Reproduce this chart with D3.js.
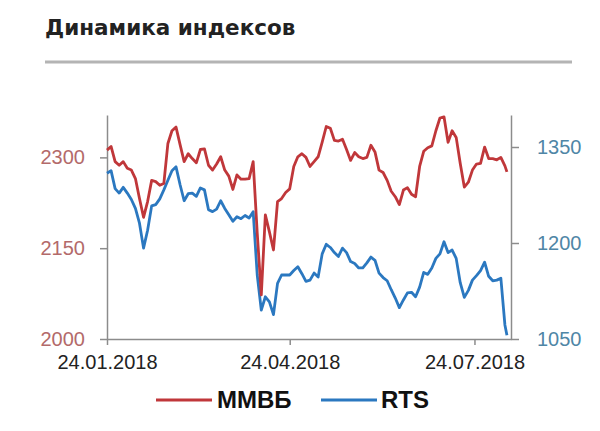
<!DOCTYPE html>
<html>
<head>
<meta charset="utf-8">
<script src="https://cdn.jsdelivr.net/npm/d3@7"></script>
<style>
  html, body { margin: 0; padding: 0; background: #ffffff; }
  svg { display: block; }
</style>
</head>
<body>
<svg id="chart" width="600" height="431"></svg>
<script>
// ---- data ----
const title = "Динамика индексов";
const seriesNames = ["ММВБ", "RTS"];
const dates = [
  "01-24","01-26","01-28","01-30","02-01","02-03","02-05","02-07","02-09","02-11",
  "02-13","02-15","02-17","02-19","02-21","02-23","02-25","02-27","03-01","03-03",
  "03-05","03-07","03-09","03-11","03-13","03-15","03-17","03-19","03-21","03-23",
  "03-25","03-27","03-29","03-31","04-02","04-04","04-06","04-08","04-10","04-12",
  "04-14","04-16","04-18","04-20","04-22","04-24","04-26","04-28","04-30","05-02",
  "05-04","05-06","05-08","05-10","05-12","05-14","05-16","05-18","05-20","05-22",
  "05-24","05-26","05-28","05-30","06-01","06-03","06-05","06-07","06-09","06-11",
  "06-13","06-15","06-17","06-19","06-21","06-23","06-25","06-27","06-29","07-01",
  "07-03","07-05","07-07","07-09","07-11","07-13","07-15","07-17","07-19","07-21",
  "07-23","07-25","07-27","07-29","07-31","08-02","08-04","08-06","08-08","08-09"
];
const mmvb = [
  2312,2318,2293,2287,2293,2282,2279,2265,2232,2201,
  2227,2262,2260,2254,2257,2323,2344,2350,2321,2293,
  2306,2298,2291,2313,2314,2287,2279,2289,2301,2279,
  2269,2247,2271,2264,2264,2265,2293,2175,2073,2205,
  2177,2147,2227,2232,2242,2248,2285,2301,2306,2300,
  2285,2293,2301,2325,2351,2348,2328,2327,2330,2313,
  2295,2308,2301,2298,2300,2320,2309,2279,2275,2262,
  2244,2235,2222,2246,2250,2239,2235,2285,2310,2316,
  2319,2344,2365,2367,2325,2344,2333,2290,2251,2259,
  2279,2289,2290,2317,2298,2298,2296,2300,2286,2276
];
const rts = [
  1309,1313,1285,1278,1287,1278,1268,1254,1231,1192,
  1220,1258,1260,1269,1283,1298,1313,1319,1291,1266,
  1277,1278,1273,1286,1283,1252,1249,1253,1266,1254,
  1244,1234,1241,1238,1243,1239,1249,1150,1095,1116,
  1108,1088,1137,1150,1150,1150,1157,1163,1152,1140,
  1142,1153,1147,1183,1198,1193,1185,1179,1192,1185,
  1171,1168,1161,1161,1169,1178,1173,1153,1146,1141,
  1127,1114,1099,1111,1122,1123,1116,1131,1154,1151,
  1161,1176,1183,1202,1185,1189,1176,1138,1115,1126,
  1142,1149,1157,1170,1148,1141,1142,1145,1072,1056
];
const leftTicks = [2000, 2150, 2300];
const rightTicks = [1050, 1200, 1350];
const xTickLabels = ["24.01.2018", "24.04.2018", "24.07.2018"];

// ---- layout ----
const svg = d3.select("#chart");
const parseDay = d3.timeParse("%Y-%m-%d");
const parseLabel = d3.timeParse("%d.%m.%Y");
const xDates = dates.map(d => parseDay("2018-" + d));

const plot = { left: 107, right: 511, top: 115, bottom: 339 };
const x = d3.scaleTime()
  .domain([parseDay("2018-01-24"), parseDay("2018-08-11")])
  .range([plot.left, plot.right]);
const yL = d3.scaleLinear().domain([2000, 2370]).range([plot.bottom, plot.top]);
const yR = d3.scaleLinear().domain([1050, 1400]).range([plot.bottom, plot.top]);

const redColor = "#c0373a";
const blueColor = "#2b78c0";
const axisColor = "#8c8c8c";

// title
svg.append("text")
  .attr("x", 45).attr("y", 35)
  .attr("font-family", "DejaVu Sans, sans-serif")
  .attr("font-size", 21.5).attr("font-weight", "bold")
  .attr("fill", "#222")
  .text(title);
svg.append("line")
  .attr("x1", 45).attr("x2", 572).attr("y1", 62).attr("y2", 62)
  .attr("stroke", "#b4b4b4").attr("stroke-width", 3);

// axes
function styleAxis(g, color) {
  g.select(".domain").attr("stroke", axisColor).attr("stroke-width", 1.5);
  g.selectAll(".tick line").attr("stroke", axisColor).attr("stroke-width", 1.5);
  g.selectAll(".tick text")
    .attr("font-family", "Liberation Sans, Arial, sans-serif")
    .attr("font-size", 20)
    .attr("fill", color);
}

const gL = svg.append("g").attr("transform", `translate(${plot.left},0)`)
  .call(d3.axisLeft(yL).tickValues(leftTicks).tickFormat(d3.format("d"))
    .tickSize(7).tickSizeOuter(0).tickPadding(15));
styleAxis(gL, "#b36a6a");

const gR = svg.append("g").attr("transform", `translate(${plot.right},0)`)
  .call(d3.axisRight(yR).tickValues(rightTicks).tickFormat(d3.format("d"))
    .tickSize(8).tickSizeOuter(0).tickPadding(18));
styleAxis(gR, "#4f86a6");

const gB = svg.append("g").attr("transform", `translate(0,${plot.bottom})`)
  .call(d3.axisBottom(x).tickValues(xTickLabels.map(parseLabel))
    .tickFormat(d3.timeFormat("%d.%m.%Y")).tickSize(6).tickSizeOuter(0).tickPadding(10));
styleAxis(gB, "#222");

// lines
const lineL = d3.line().x((d, i) => x(xDates[i])).y(d => yL(d));
const lineR = d3.line().x((d, i) => x(xDates[i])).y(d => yR(d));
svg.append("path").datum(rts).attr("d", lineR)
  .attr("fill", "none").attr("stroke", blueColor).attr("stroke-width", 2.8)
  .attr("stroke-linejoin", "round");
svg.append("path").datum(mmvb).attr("d", lineL)
  .attr("fill", "none").attr("stroke", redColor).attr("stroke-width", 2.8)
  .attr("stroke-linejoin", "round");

// legend
const legend = [
  { name: seriesNames[0], color: redColor, x1: 156, x2: 212, tx: 217 },
  { name: seriesNames[1], color: blueColor, x1: 321, x2: 377, tx: 381 }
];
const ly = 400;
legend.forEach(l => {
  svg.append("line").attr("x1", l.x1).attr("x2", l.x2).attr("y1", ly).attr("y2", ly)
    .attr("stroke", l.color).attr("stroke-width", 3);
  svg.append("text").attr("x", l.tx).attr("y", ly).attr("dy", "0.35em")
    .attr("font-family", "Liberation Sans, Arial, sans-serif")
    .attr("font-size", 24).attr("font-weight", "bold").attr("fill", "#111")
    .text(l.name);
});
</script>
</body>
</html>
